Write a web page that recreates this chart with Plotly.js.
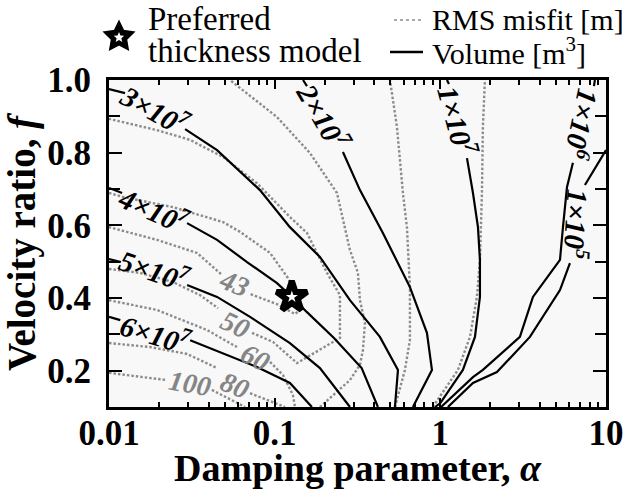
<!DOCTYPE html>
<html>
<head>
<meta charset="utf-8">
<script src="https://cdn.plot.ly/plotly-3.0.1.min.js"></script>
<style>html,body{margin:0;padding:0;background:#fff;}#chart{width:624px;height:489px;}</style>
</head>
<body>
<div id="chart"></div>
<script>
// ---------- Volume contours [m^3]  (alpha = damping parameter, f = velocity ratio) ----------
const vol3e7Alpha = [0.0100, 0.0125, null, 0.0288, 0.0449, 0.0815, 0.1236, 0.1876, 0.2846, 0.4318, 0.555, 0.532];
const vol3e7F     = [0.975, 0.964, null, 0.865, 0.807, 0.697, 0.595, 0.513, 0.394, 0.293, 0.202, 0.100];
const vol4e7Alpha = [0.0100, 0.0120, null, 0.0296, 0.0449, 0.0681, 0.1033, 0.127, 0.1567, 0.228, 0.335, 0.420];
const vol4e7F     = [0.703, 0.689, null, 0.606, 0.560, 0.499, 0.441, 0.403, 0.361, 0.290, 0.207, 0.100];
const vol5e7Alpha = [0.0100, 0.0118, null, 0.0296, 0.0449, 0.0710, 0.1236, 0.1876, 0.2846];
const vol5e7F     = [0.507, 0.499, null, 0.436, 0.403, 0.348, 0.276, 0.207, 0.100];
const vol6e7Alpha = [0.0100, 0.0117, null, 0.0309, 0.0782, 0.1236, 0.1679];
const vol6e7F     = [0.348, 0.339, null, 0.284, 0.210, 0.166, 0.100];
const vol2e7Alpha = [0.1483, 0.1567, null, 0.2582, 0.3272, 0.450, 0.6553, 0.830, 0.890, 0.6832];
const vol2e7F     = [1.000, 0.983, null, 0.802, 0.697, 0.579, 0.430, 0.304, 0.202, 0.100];
const vol1e7Alpha = [1.096, 1.127, null, 1.448, 1.574, 1.687, 1.734, 1.734, 1.618, 1.368, 1.00, 0.93];
const vol1e7F     = [1.000, 0.989, null, 0.785, 0.689, 0.595, 0.505, 0.403, 0.293, 0.202, 0.111, 0.100];
const vol1e6Alpha = [8.57, 8.46, null, 6.315, 5.813, 5.499, 5.275, 3.623, 3.022, 1.807, 1.574, 1.01];
const vol1e6F     = [1.000, 0.983, null, 0.772, 0.705, 0.595, 0.505, 0.403, 0.293, 0.202, 0.182, 0.100];
const vol1e5Alpha = [10.0, 7.46, null, 6.058, 5.275, 3.473, 2.196, 1.574, 1.111];
const vol1e5F     = [0.807, 0.711, null, 0.496, 0.422, 0.293, 0.196, 0.166, 0.100];

// ---------- RMS misfit contours [m] ----------
const rms43Alpha = [0.0100, 0.01215, 0.02432, 0.0488, 0.0618, 0.0938, 0.1203, 0.1422, 0.1422, 0.1326, 0.1033, 0.0710, null, 0.0474, 0.0340, 0.0195, 0.0100];
const rms43F     = [0.689, 0.678, 0.650, 0.609, 0.582, 0.524, 0.455, 0.394, 0.367, 0.356, 0.383, 0.411, null, 0.466, 0.524, 0.560, 0.595];
const rms50Alpha = [0.0100, 0.01538, 0.02432, 0.0354, 0.0455, null, 0.0730, 0.0978, 0.1364, 0.2477, 0.2477, 0.2069, 0.1567, 0.1236, 0.0782, 0.0488, 0.0309, 0.0195, 0.0100];
const rms50F     = [0.480, 0.469, 0.444, 0.408, 0.372, null, 0.304, 0.279, 0.221, 0.290, 0.408, 0.469, 0.579, 0.623, 0.716, 0.788, 0.835, 0.862, 0.893];
const rms60Alpha = [0.0100, 0.0195, 0.0390, 0.0592, null, 0.0938, 0.1122, 0.1289, 0.1326, null, 0.1876, 0.2846, 0.3272, 0.3411, 0.3507, 0.3272, 0.3182, 0.2846, 0.2378, 0.1633, 0.1033, 0.0537];
const rms60F     = [0.394, 0.367, 0.312, 0.265, null, 0.224, 0.188, 0.133, 0.100, null, 0.100, 0.174, 0.216, 0.257, 0.331, 0.394, 0.469, 0.532, 0.689, 0.799, 0.898, 1.000];
const rms80Alpha = [0.0100, 0.01768, 0.0296, 0.0449, null, 0.0710, 0.0978, 0.1154, null, 0.5322, 0.6113, 0.6553, 0.6553, 0.6285, 0.5946, 0.5471, 0.4966];
const rms80F     = [0.276, 0.265, 0.246, 0.207, null, 0.138, 0.114, 0.100, null, 0.100, 0.202, 0.284, 0.430, 0.595, 0.689, 0.871, 1.000];
const rms100Alpha = [0.0100, 0.02239, null, 0.0418, 0.0515, 0.0662, null, 0.90, 1.277, 1.510, 1.663, 1.734, 1.783, 1.807, 1.858];
const rms100F     = [0.194, 0.174, null, 0.147, 0.125, 0.100, null, 0.100, 0.202, 0.293, 0.403, 0.505, 0.689, 0.871, 1.000];

// ---------- Preferred thickness model ----------
const prefAlpha = [0.127];
const prefF = [0.403];

// ---------- Contour labels ----------
const volLabels     = ['3×10<sup>7</sup>', '4×10<sup>7</sup>', '5×10<sup>7</sup>', '6×10<sup>7</sup>', '2×10<sup>7</sup>', '1×10<sup>7</sup>', '1×10<sup>6</sup>', '1×10<sup>5</sup>'];
const volLabelAlpha = [0.0190, 0.0187, 0.0187, 0.0192, 0.198, 1.277, 7.26, 6.76];
const volLabelF     = [0.920, 0.645, 0.480, 0.304, 0.901, 0.887, 0.876, 0.604];
const rmsLabels     = ['43', '50', '60', '80', '100'];
const rmsLabelAlpha = [0.0576, 0.0576, 0.0760, 0.0576, 0.0309];
const rmsLabelF     = [0.441, 0.326, 0.235, 0.160, 0.166];

// ---------- tick labels / legend texts ----------
const xTickVals = [0.01, 0.1, 1, 10];
const xTickText = ['0.01', '0.1', '1', '10'];
const yTickVals = [0.2, 0.4, 0.6, 0.8, 1.0];
const yTickText = ['0.2', '0.4', '0.6', '0.8', '1.0'];
const legendPrefText = ['Preferred', 'thickness model'];
const legendRmsText = 'RMS misfit [m]';
const legendVolText = 'Volume [m<sup>3</sup>]';

// ---------- styles ----------
const FONT = 'Liberation Serif, "Times New Roman", serif';
const volAngles = [29, 24, 19, 17, 60, 75, 102, 93];
const rmsAngles = [22, 25, 27, 22, 10];
const volLine = {color: '#000000', width: 2.2};
const rmsLine = {color: '#8c8c8c', width: 2.4, dash: '2.5px,2px'};

// plot-area geometry (pixels) used to place the hand-made legend
const PL = 109, PR = 606, PT = 80, PB = 407;
const px2x = p => (p - PL) / (PR - PL);
const px2y = p => (PB - p) / (PB - PT);

const volSeries = [[vol3e7Alpha, vol3e7F], [vol4e7Alpha, vol4e7F], [vol5e7Alpha, vol5e7F], [vol6e7Alpha, vol6e7F],
                   [vol2e7Alpha, vol2e7F], [vol1e7Alpha, vol1e7F], [vol1e6Alpha, vol1e6F], [vol1e5Alpha, vol1e5F]];
const rmsSeries = [[rms43Alpha, rms43F], [rms50Alpha, rms50F], [rms60Alpha, rms60F], [rms80Alpha, rms80F], [rms100Alpha, rms100F]];

const traces = [];
rmsSeries.forEach(s => traces.push({
  type: 'scatter', mode: 'lines', x: s[0], y: s[1], line: rmsLine, hoverinfo: 'skip', showlegend: false, name: 'RMS misfit [m]'
}));
volSeries.forEach(s => traces.push({
  type: 'scatter', mode: 'lines', x: s[0], y: s[1], line: volLine, hoverinfo: 'skip', showlegend: false, name: 'Volume [m3]'
}));
traces.push({
  type: 'scatter', mode: 'markers', x: prefAlpha, y: prefF, hoverinfo: 'skip', cliponaxis: false, showlegend: false,
  marker: {symbol: 'star', size: 23, color: '#ffffff', line: {color: '#000000', width: 6}},
  name: 'Preferred thickness model'
});

const annotations = [];
volLabels.forEach((t, i) => annotations.push({
  xref: 'x', yref: 'y', x: Math.log10(volLabelAlpha[i]), y: volLabelF[i], text: '<b><i>' + t + '</i></b>',
  textangle: volAngles[i], showarrow: false, font: {family: FONT, size: 29, color: '#000000'}
}));
rmsLabels.forEach((t, i) => annotations.push({
  xref: 'x', yref: 'y', x: Math.log10(rmsLabelAlpha[i]), y: rmsLabelF[i], text: '<b><i>' + t + '</i></b>',
  textangle: rmsAngles[i], showarrow: false, font: {family: FONT, size: 28, color: '#858585'}
}));
// legend texts
const legFontL = {family: FONT, size: 33, color: '#000000'};
const legFontR = {family: FONT, size: 30, color: '#000000'};
[[legendPrefText[0], 146, 19, legFontL], [legendPrefText[1], 146, 51, legFontL],
 [legendRmsText, 430, 19, legFontR], [legendVolText, 430, 51, legFontR]].forEach(a =>
  annotations.push({xref: 'paper', yref: 'paper', x: px2x(a[1]), y: px2y(a[2]), xanchor: 'left', yanchor: 'middle',
                    text: a[0], showarrow: false, font: a[3]}));

// legend symbols
function starPath(R, r) {
  let d = '';
  for (let k = 0; k < 10; k++) {
    const rho = k % 2 === 0 ? R : r;
    const th = Math.PI / 2 + k * Math.PI / 5;
    d += (k === 0 ? 'M' : 'L') + (rho * Math.cos(th)).toFixed(2) + ',' + (rho * Math.sin(th)).toFixed(2);
  }
  return d + 'Z';
}
const shapes = [
  {type: 'line', xref: 'paper', yref: 'paper', x0: px2x(394), x1: px2x(423), y0: px2y(20), y1: px2y(20),
   line: {color: '#8c8c8c', width: 1.6, dash: 'dot'}},
  {type: 'line', xref: 'paper', yref: 'paper', x0: px2x(390), x1: px2x(423), y0: px2y(52), y1: px2y(52),
   line: {color: '#000000', width: 2.5}},
  {type: 'path', xref: 'paper', yref: 'paper', xsizemode: 'pixel', ysizemode: 'pixel',
   xanchor: px2x(119), yanchor: px2y(37), path: starPath(14, 7), fillcolor: '#000000',
   line: {color: '#000000', width: 3}},
  {type: 'path', xref: 'paper', yref: 'paper', xsizemode: 'pixel', ysizemode: 'pixel',
   xanchor: px2x(119), yanchor: px2y(37.5), path: starPath(5.5, 2.5), fillcolor: '#ffffff',
   line: {width: 0}}
];

const xMinor = [0.02,0.03,0.04,0.05,0.06,0.07,0.08,0.09,0.2,0.3,0.4,0.5,0.6,0.7,0.8,0.9,2,3,4,5,6,7,8,9];
const yMinor = [0.1,0.3,0.5,0.7,0.9];

const layout = {
  width: 624, height: 489,
  margin: {l: PL, r: 624 - PR, t: PT, b: 489 - PB, pad: 0},
  paper_bgcolor: '#ffffff', plot_bgcolor: '#f8f8f8',
  font: {family: FONT, color: '#000000'},
  showlegend: false,
  xaxis: {
    type: 'log', range: [-2, 1], automargin: false,
    tickmode: 'array', tickvals: xTickVals, ticktext: xTickText.map(t => '<b>' + t + '</b>'),
    ticks: 'inside', ticklen: 9, tickwidth: 2, tickcolor: '#000000', ticklabelstandoff: -7,
    showline: true, linewidth: 3, linecolor: '#000000', mirror: 'allticks',
    showgrid: false, zeroline: false,
    tickfont: {family: FONT, size: 35, color: '#000000'},
    minor: {tickmode: 'array', tickvals: xMinor, ticks: 'inside', ticklen: 5, tickwidth: 2, tickcolor: '#000000', showgrid: false},
    title: {text: '<b>Damping parameter, <i>α</i></b>', font: {family: FONT, size: 38, color: '#000000'}, standoff: 2}
  },
  yaxis: {
    range: [0.1, 1.0], automargin: false,
    tickmode: 'array', tickvals: yTickVals, ticktext: yTickText.map(t => '<b>' + t + '</b>'),
    ticks: 'inside', ticklen: 13, tickwidth: 2, tickcolor: '#000000', ticklabelstandoff: 8,
    showline: true, linewidth: 3, linecolor: '#000000', mirror: 'allticks',
    showgrid: false, zeroline: false,
    tickfont: {family: FONT, size: 35, color: '#000000'},
    minor: {tickmode: 'array', tickvals: yMinor, ticks: 'inside', ticklen: 11, tickwidth: 2, tickcolor: '#000000', showgrid: false},
    title: {text: '<b>Velocity ratio, <i>f</i></b>', font: {family: FONT, size: 39, color: '#000000'}, standoff: 2}
  },
  annotations: annotations,
  shapes: shapes
};

Plotly.newPlot('chart', traces, layout, {staticPlot: true, displayModeBar: false});
</script>
</body>
</html>
